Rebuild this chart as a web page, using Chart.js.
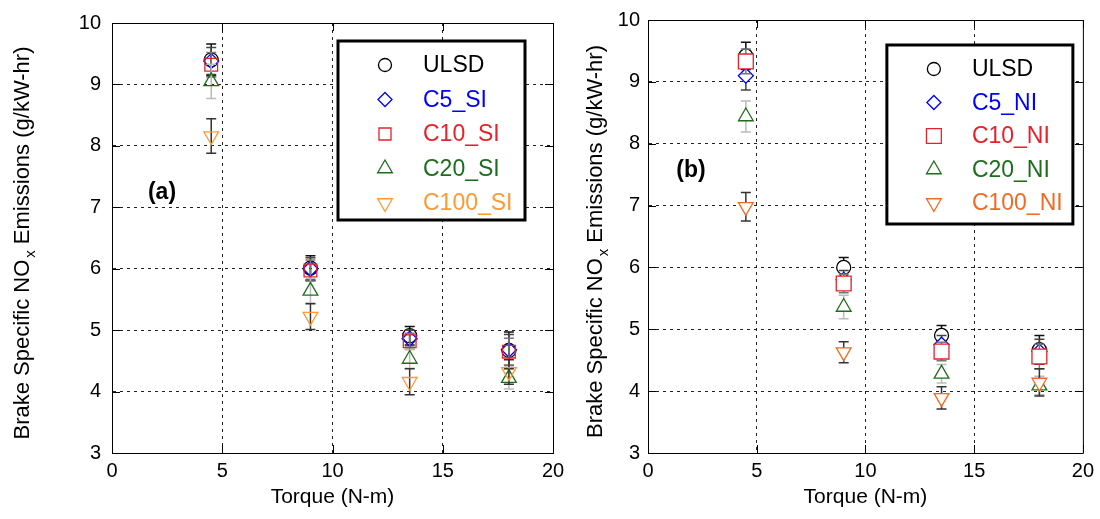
<!DOCTYPE html>
<html>
<head>
<meta charset="utf-8">
<script src="https://cdn.jsdelivr.net/npm/chart.js@4.4.0/dist/chart.umd.min.js"></script>
<style>
  html, body { margin: 0; padding: 0; background: #fff; }
  #wrap { position: relative; width: 1100px; height: 519px; overflow: hidden; }
  .panel { position: absolute; top: 0; height: 519px; }
</style>
</head>
<body>
<div id="wrap">
  <div class="panel" style="left:0;width:575px"><canvas id="chartA" width="575" height="519"></canvas></div>
  <div class="panel" style="left:575px;width:525px"><canvas id="chartB" width="525" height="519"></canvas></div>
</div>
<script>
// Engine torque settings (N-m)
const torque = [4.5, 9, 13.5, 18];
const xTickValues = [0, 5, 10, 15, 20];
const yTickValues = [3, 4, 5, 6, 7, 8, 9, 10];

// Panel (a): SI blends — BSNOx (g/kW-hr) and error half-widths
const namesA = ['ULSD', 'C5_SI', 'C10_SI', 'C20_SI', 'C100_SI'];
const ulsdA  = [9.40, 6.01, 4.91, 4.67];
const c5A    = [9.38, 6.00, 4.86, 4.68];
const c10A   = [9.32, 5.97, 4.82, 4.65];
const c20A   = [9.05, 5.64, 4.53, 4.22];
const c100A  = [8.16, 5.22, 4.16, 4.32];
const ulsdErrA = [0.26, 0.20, 0.15, 0.30];
const c5ErrA   = [0.22, 0.18, 0.14, 0.25];
const c10ErrA  = [0.20, 0.17, 0.13, 0.22];
const c20ErrA  = [0.28, 0.20, 0.15, 0.18];
const c100ErrA = [0.28, 0.21, 0.21, 0.20];

// Panel (b): NI blends — BSNOx (g/kW-hr) and error half-widths
const namesB = ['ULSD', 'C5_NI', 'C10_NI', 'C20_NI', 'C100_NI'];
const ulsdB  = [9.42, 6.00, 4.90, 4.67];
const c5B    = [9.10, 5.80, 4.75, 4.64];
const c10B   = [9.33, 5.74, 4.64, 4.56];
const c20B   = [8.44, 5.36, 4.28, 4.09];
const c100B  = [6.98, 4.63, 3.89, 4.14];
const ulsdErrB = [0.22, 0.16, 0.16, 0.23];
const c5ErrB   = [0.23, 0.15, 0.15, 0.20];
const c10ErrB  = [0.20, 0.15, 0.15, 0.20];
const c20ErrB  = [0.25, 0.19, 0.15, 0.15];
const c100ErrB = [0.23, 0.17, 0.18, 0.22];

const FONT = '"Liberation Sans", Arial, Helvetica, sans-serif';

function points(vals) { return torque.map((x, i) => ({ x: x, y: vals[i] })); }

function makeSet(label, vals, errs, style) {
  return {
    label: label,
    data: points(vals),
    errors: errs,
    errColor: style.errColor,
    textColor: style.textColor || style.color,
    borderColor: style.color,
    backgroundColor: style.fill,
    pointStyle: style.shape,
    pointRotation: style.rotation || 0,
    pointRadius: style.radius,
    pointHoverRadius: style.radius,
    pointBorderWidth: 1.3,
    pointHoverBorderWidth: 1.3,
    showLine: false,
    order: style.order
  };
}

// Error bars, drawn just before each series' markers
const errorBars = {
  id: 'errorBars',
  beforeDatasetDraw(chart, args) {
    const ds = chart.data.datasets[args.index];
    if (!ds.errors) return;
    const xs = chart.scales.x, ys = chart.scales.y, ctx = chart.ctx;
    ctx.save();
    ctx.strokeStyle = ds.errColor;
    ctx.lineWidth = 1.5;
    ds.data.forEach((p, i) => {
      const e = ds.errors[i];
      const px = xs.getPixelForValue(p.x);
      const y1 = ys.getPixelForValue(p.y + e);
      const y2 = ys.getPixelForValue(p.y - e);
      ctx.beginPath();
      ctx.moveTo(px, y1); ctx.lineTo(px, y2);
      ctx.moveTo(px - 5, y1); ctx.lineTo(px + 5, y1);
      ctx.moveTo(px - 5, y2); ctx.lineTo(px + 5, y2);
      ctx.stroke();
    });
    ctx.restore();
  }
};

// Closed frame with inward tick marks on all four sides
const frame = {
  id: 'frame',
  beforeDatasetsDraw(chart) {
    const { ctx, chartArea: a } = chart;
    const xs = chart.scales.x, ys = chart.scales.y;
    const L = 8;
    ctx.save();
    ctx.strokeStyle = '#000';
    ctx.lineWidth = 1;
    ctx.beginPath();
    ctx.rect(a.left + 0.5, a.top + 0.5, a.right - a.left, a.bottom - a.top);
    xTickValues.forEach(v => {
      const px = Math.round(xs.getPixelForValue(v)) + 0.5;
      ctx.moveTo(px, a.bottom); ctx.lineTo(px, a.bottom - L);
      ctx.moveTo(px, a.top); ctx.lineTo(px, a.top + L);
    });
    yTickValues.forEach(v => {
      const py = Math.round(ys.getPixelForValue(v)) + 0.5;
      ctx.moveTo(a.left, py); ctx.lineTo(a.left + L, py);
      ctx.moveTo(a.right, py); ctx.lineTo(a.right - L, py);
    });
    ctx.stroke();
    ctx.restore();
  }
};

// Y-axis title with subscript, panel tag, boxed legend
const decorations = {
  id: 'decorations',
  afterDraw(chart, args, opts) {
    const { ctx, chartArea: a } = chart;
    ctx.save();
    // y-axis title
    const main = '22px ' + FONT, sub = '15px ' + FONT;
    const parts = [['Brake Specific NO', main, 0, 0], ['x', sub, 8, 2], [' Emissions (g/kW-hr)', main, 0, 0]];
    let total = 0;
    parts.forEach(p => { ctx.font = p[1]; total += ctx.measureText(p[0]).width + p[3]; });
    ctx.translate(opts.titleX, (a.top + a.bottom) / 2 + 5);
    ctx.rotate(-Math.PI / 2);
    ctx.fillStyle = '#000';
    ctx.textBaseline = 'middle';
    ctx.textAlign = 'left';
    let cx = -total / 2;
    parts.forEach(p => {
      ctx.font = p[1];
      ctx.fillText(p[0], cx + p[3], p[2]);
      cx += ctx.measureText(p[0]).width + p[3];
    });
    ctx.restore();

    // panel tag
    ctx.save();
    ctx.font = 'bold 23px ' + FONT;
    ctx.fillStyle = '#000';
    ctx.textAlign = 'center';
    ctx.textBaseline = 'middle';
    ctx.fillText(opts.tag, a.left + opts.tagDx, a.top + opts.tagDy);
    ctx.restore();

    // legend
    const bx = a.right - opts.legRight - opts.legW, by = a.top + opts.legTop;
    ctx.save();
    ctx.fillStyle = '#fff';
    ctx.fillRect(bx, by, opts.legW, opts.legH);
    ctx.lineWidth = 3;
    ctx.strokeStyle = '#000';
    ctx.strokeRect(bx, by, opts.legW, opts.legH);
    ctx.font = '23px ' + FONT;
    ctx.textBaseline = 'middle';
    ctx.textAlign = 'left';
    chart.data.datasets.forEach((ds, i) => {
      const ry = by + 24 + i * opts.legStep;
      ctx.strokeStyle = ds.borderColor;
      ctx.fillStyle = 'rgba(255,255,255,0)';
      ctx.lineWidth = 1.3;
      Chart.helpers.drawPoint(ctx, {
        pointStyle: ds.pointStyle, rotation: ds.pointRotation,
        radius: opts.legRadius[i], borderWidth: 1.3
      }, bx + 47, ry);
      ctx.fillStyle = ds.textColor;
      ctx.fillText(ds.label, bx + 85, ry + 1);
    });
    ctx.restore();
  }
};

function buildChart(id, sets, yWidth, tickPad, panelOpts) {
  const gridColor = (lo, hi) => (c) =>
    (c.tick && (c.tick.value === lo || c.tick.value === hi)) ? 'rgba(0,0,0,0)' : '#222';
  return new Chart(document.getElementById(id), {
    type: 'scatter',
    data: { datasets: sets },
    options: {
      responsive: false,
      animation: false,
      devicePixelRatio: 1,
      layout: { padding: panelOpts.padding },
      plugins: {
        legend: { display: false },
        tooltip: { enabled: false },
        decorations: panelOpts.deco
      },
      scales: {
        x: {
          type: 'linear', min: 0, max: 20,
          afterBuildTicks: (s) => { s.ticks = xTickValues.map(v => ({ value: v })); },
          ticks: { font: { family: FONT, size: 20 }, color: '#000', padding: 6 },
          grid: { color: gridColor(0, 20), lineWidth: 1, drawTicks: false },
          border: { display: true, color: '#000', width: 1, dash: [3, 4] },
          title: { display: true, text: 'Torque (N-m)', color: '#000',
                   font: { family: FONT, size: 21 }, padding: { top: 4, bottom: 9 } },
          afterFit: (s) => { s.height = 66; }
        },
        y: {
          type: 'linear', min: 3, max: 10,
          afterBuildTicks: (s) => { s.ticks = yTickValues.map(v => ({ value: v })); },
          ticks: { font: { family: FONT, size: 20 }, color: '#000', padding: tickPad },
          grid: { color: gridColor(3, 10), lineWidth: 1, drawTicks: false },
          border: { display: true, color: '#000', width: 1, dash: [3, 4] },
          afterFit: (s) => { s.width = yWidth; }
        }
      }
    },
    plugins: [errorBars, frame, decorations]
  });
}

const clear = 'rgba(255,255,255,0)';
const setsA = [
  makeSet(namesA[0], ulsdA, ulsdErrA, { color: '#000000', fill: clear, errColor: '#111', shape: 'circle', radius: 7, order: 5 }),
  makeSet(namesA[1], c5A, c5ErrA, { color: '#0000ff', fill: clear, errColor: '#444', shape: 'rectRot', radius: 7.5, order: 4 }),
  makeSet(namesA[2], c10A, c10ErrA, { color: '#e8202a', fill: clear, errColor: '#777', shape: 'rect', radius: 9, order: 3 }),
  makeSet(namesA[3], c20A, c20ErrA, { color: '#1c6e1c', fill: clear, errColor: '#bbb', shape: 'triangle', radius: 8.5, order: 2 }),
  makeSet(namesA[4], c100A, c100ErrA, { color: '#ff9a33', fill: clear, errColor: '#333', shape: 'triangle', rotation: 180, radius: 8.5, order: 1 })
];

const setsB = [
  makeSet(namesB[0], ulsdB, ulsdErrB, { color: '#000000', fill: '#fff', errColor: '#111', shape: 'circle', radius: 7, order: 5 }),
  makeSet(namesB[1], c5B, c5ErrB, { color: '#0000ff', fill: '#fff', errColor: '#444', shape: 'rectRot', radius: 7.5, order: 4 }),
  makeSet(namesB[2], c10B, c10ErrB, { color: '#e8202a', fill: '#fff', errColor: '#777', shape: 'rect', radius: 10.5, order: 3 }),
  makeSet(namesB[3], c20B, c20ErrB, { color: '#1c6e1c', fill: '#fff', errColor: '#bbb', shape: 'triangle', radius: 8.5, order: 2 }),
  makeSet(namesB[4], c100B, c100ErrB, { color: '#f26a22', fill: '#fff', errColor: '#333', shape: 'triangle', rotation: 180, radius: 8.5, order: 1 })
];

buildChart('chartA', setsA, 112, 11, {
  padding: { left: 0, top: 16, right: 22, bottom: 0 },
  deco: { titleX: 23, tag: '(a)', tagDx: 50, tagDy: 170,
          legRight: 28, legTop: 18, legW: 187, legH: 179, legStep: 34.5,
          legRadius: [6.5, 7, 8.5, 8.5, 8.5] }
});

buildChart('chartB', setsB, 73, 8, {
  padding: { left: 0, top: 20, right: 17, bottom: 0 },
  deco: { titleX: 21, tag: '(b)', tagDx: 43, tagDy: 151,
          legRight: 10, legTop: 25, legW: 186, legH: 179, legStep: 33.5,
          legRadius: [6.5, 7, 10.5, 8.5, 8.5] }
});
</script>
</body>
</html>
